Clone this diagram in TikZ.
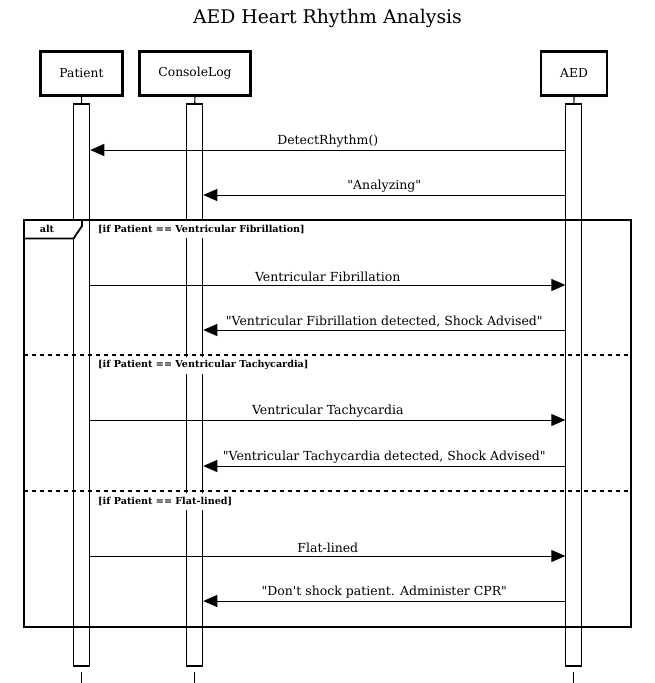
\documentclass[tikz,border=0pt]{standalone}
\usepackage{fontspec}
\setmainfont{DejaVu Serif}[Ligatures=TeXOff]
\usetikzlibrary{arrows.meta}
\tikzset{
  actor/.style={draw, line width=2.5pt, minimum height=44pt, inner sep=0pt, font=\fontsize{12.3}{14}\selectfont},
  actbar/.style={draw, fill=white, line width=1.1pt, minimum width=16pt, minimum height=562pt, inner sep=0pt},
  lifeline/.style={line width=1.1pt},
  msg/.style={line width=1pt, -{Triangle[length=14pt,width=12pt]}},
  msglabel/.style={font=\fontsize{12.5}{14}\selectfont, anchor=south, inner sep=2.5pt},
  frameline/.style={line width=2.5pt},
  sepline/.style={line width=2pt, dash pattern=on 4pt off 4pt},
  cond/.style={font=\bfseries\fontsize{9.6}{11}\selectfont, fill=white, anchor=north west, inner sep=2pt, minimum height=17pt},
  altfont/.style={font=\bfseries\fontsize{9.6}{11}\selectfont},
  titlestyle/.style={font=\fontsize{18.8}{22}\selectfont}
}
\begin{document}
\begin{tikzpicture}[x=1pt,y=-1pt]
\useasboundingbox[fill=white] (0,0) rectangle (655,683);
\node[titlestyle] (title) at (327.5,18) {AED Heart Rhythm Analysis};
% participants
\node[actor, minimum width=82pt] (patient) at (81.5,73.5) {Patient};
\node[actor, minimum width=111pt] (console) at (195,73.5) {ConsoleLog};
\node[actor, minimum width=66pt] (aed) at (574,73.5) {AED};
% activation bars
\node[actbar] (pbar) at (81.7,385) {};
\node[actbar] (cbar) at (194.7,385) {};
\node[actbar] (abar) at (573.9,385) {};
\draw[lifeline] (patient.south) -- (pbar.north);
\draw[lifeline] (console.south) -- (cbar.north);
\draw[lifeline] (aed.south) -- (abar.north);
\coordinate (pend) at (81.7,683);
\coordinate (cend) at (194.7,683);
\coordinate (aend) at (573.9,683);
\draw[lifeline] (pend |- 0,672) -- (pend);
\draw[lifeline] (cend |- 0,672) -- (cend);
\draw[lifeline] (aend |- 0,672) -- (aend);
% messages
\draw[msg] (abar.west |- 0,150) -- node[msglabel]{DetectRhythm()} (pbar.east |- 0,150);
\draw[msg] (abar.west |- 0,195) -- node[msglabel]{"Analyzing"} (cbar.east |- 0,195);
% alt frame
\draw[frameline] (24,220) rectangle (631,627);
\draw[line width=1.8pt, fill=white] (24,220) -- (82,220) -- (82,226) -- (73.5,238.5) -- (24,238.5) -- cycle;
\node[altfont] (altlbl) at (47,229) {alt};
\node[cond] (c1) at (96,221) {[if Patient == Ventricular Fibrillation]};
\draw[msg] (pbar.east |- 0,285) -- node[msglabel]{Ventricular Fibrillation} (abar.west |- 0,285);
\draw[msg] (abar.west |- 0,330) -- node[msglabel]{"Ventricular Fibrillation detected, Shock Advised"} (cbar.east |- 0,330);
\draw[sepline] (24,355) -- (631,355);
\node[cond] (c2) at (96,356.5) {[if Patient == Ventricular Tachycardia]};
\draw[msg] (pbar.east |- 0,420) -- node[msglabel]{Ventricular Tachycardia} (abar.west |- 0,420);
\draw[msg] (abar.west |- 0,466) -- node[msglabel]{"Ventricular Tachycardia detected, Shock Advised"} (cbar.east |- 0,466);
\draw[sepline] (24,491) -- (631,491);
\node[cond] (c3) at (96,492.5) {[if Patient == Flat-lined]};
\draw[msg] (pbar.east |- 0,556) -- node[msglabel]{Flat-lined} (abar.west |- 0,556);
\draw[msg] (abar.west |- 0,601) -- node[msglabel]{"Don't shock patient. Administer CPR"} (cbar.east |- 0,601);
\end{tikzpicture}
\end{document}
